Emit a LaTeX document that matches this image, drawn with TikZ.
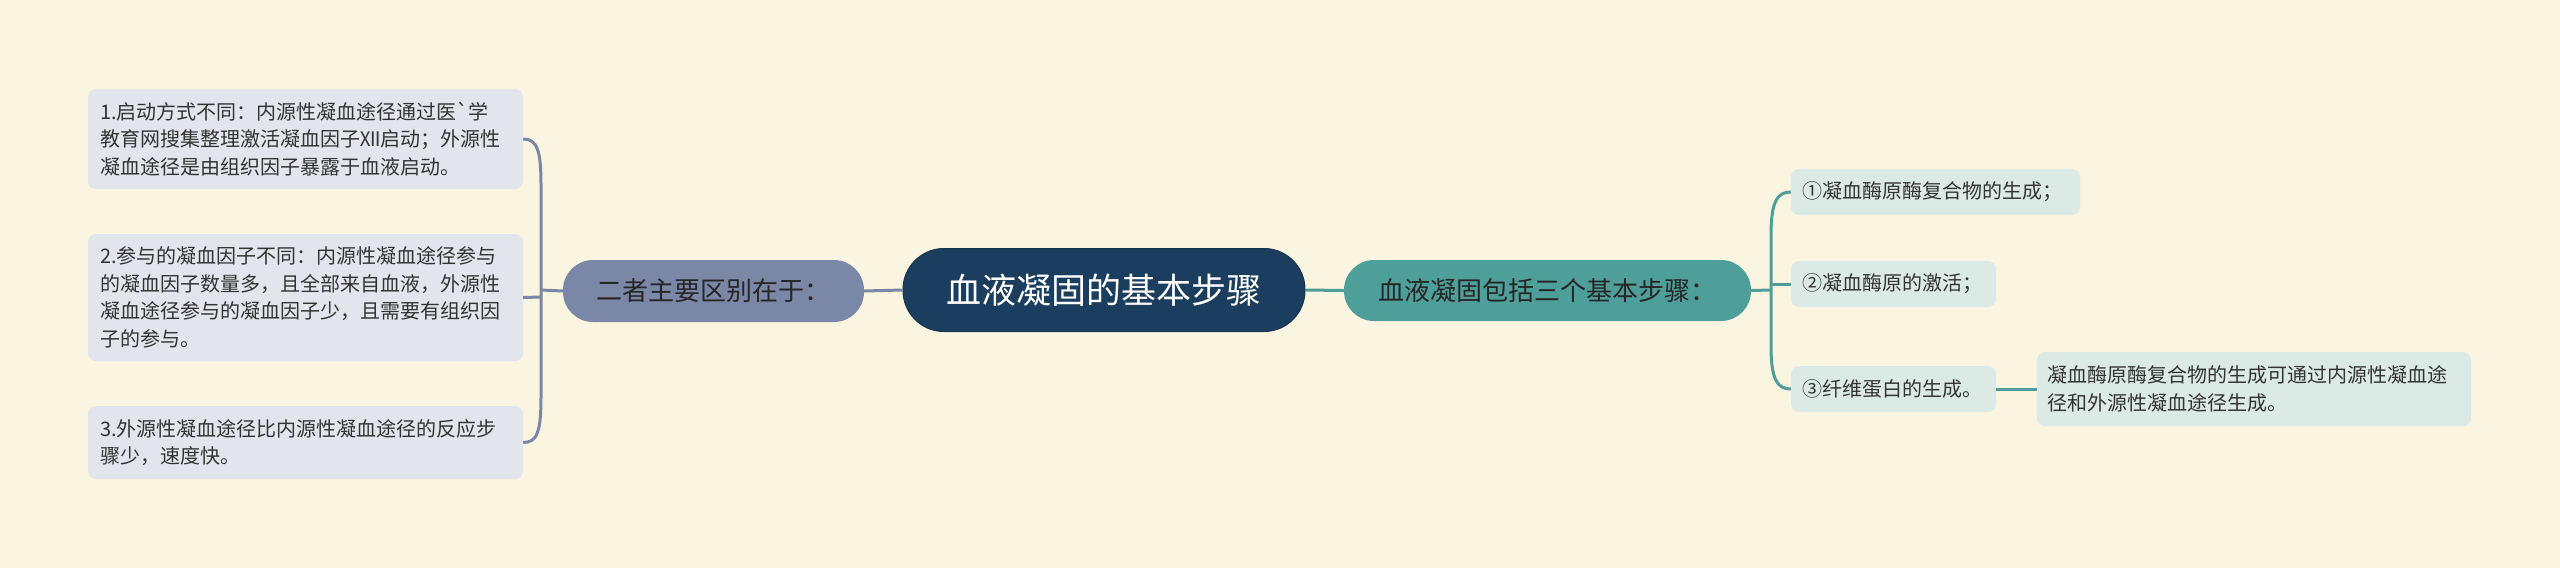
\documentclass[tikz,border=0pt]{standalone}
\usepackage{fontspec}
\newfontfamily\cjk{Noto Sans CJK SC}
\definecolor{bgc}{HTML}{FAF5E0}
\definecolor{rootc}{HTML}{1B3E5E}
\definecolor{rootb}{HTML}{16344F}
\definecolor{grayc}{HTML}{7B87A7}
\definecolor{tealc}{HTML}{4E9E9A}
\definecolor{lboxc}{HTML}{E2E5EC}
\definecolor{rboxc}{HTML}{DCEAE6}
\definecolor{txtc}{HTML}{333333}
\tikzset{
  rootn/.style={draw=rootb, line width=1pt, fill=rootc, text=white, rounded corners=41pt,
    minimum width=402pt, minimum height=83pt, inner sep=0pt,
    font=\cjk\fontsize{35}{42}\selectfont},
  graynode/.style={fill=grayc, text=black!85, rounded corners=30pt,
    minimum width=301pt, minimum height=62pt, inner sep=0pt,
    font=\cjk\fontsize{26}{32}\selectfont},
  tealnode/.style={fill=tealc, text=black!85, rounded corners=30pt,
    minimum width=407pt, minimum height=61pt, inner sep=0pt,
    font=\cjk\fontsize{26}{32}\selectfont},
  lbox/.style={fill=lboxc, text=txtc, rounded corners=8pt, inner xsep=12pt, inner ysep=0pt,
    text width=411pt, align=left, font=\cjk\fontsize{20}{27.5}\selectfont},
  rbox/.style={fill=rboxc, text=txtc, rounded corners=8pt, inner xsep=11pt, inner ysep=0pt,
    align=left, minimum height=46pt, font=\cjk\fontsize{20}{27.5}\selectfont},
  gline/.style={draw=grayc, line width=3pt},
  tline/.style={draw=tealc, line width=3pt},
}
\begin{document}
\begin{tikzpicture}[x=1pt,y=-1pt]
\fill[bgc] (0,0) rectangle (2560,568);
\useasboundingbox (0,0) rectangle (2560,568);

\node[rootn] (root) at (1104,290) {血液凝固的基本步骤};
\node[graynode] (l) at (713.5,291) {二者主要区别在于：};
\node[tealnode] (r) at (1547.5,290.5) {血液凝固包括三个基本步骤：};

\node[lbox, minimum height=100pt] (b1) at (305.5,139) {1.启动方式不同：内源性凝血途径通过医`学\\教育网搜集整理激活凝血因子Ⅻ启动；外源性\\凝血途径是由组织因子暴露于血液启动。};
\node[lbox, minimum height=127pt] (b2) at (305.5,297.5) {2.参与的凝血因子不同：内源性凝血途径参与\\的凝血因子数量多，且全部来自血液，外源性\\凝血途径参与的凝血因子少，且需要有组织因\\子的参与。};
\node[lbox, minimum height=73pt] (b3) at (305.5,442.5) {3.外源性凝血途径比内源性凝血途径的反应步\\骤少，速度快。};

\node[rbox, text width=267pt] (r1) at (1935.5,192) {①凝血酶原酶复合物的生成；};
\node[rbox, text width=183pt] (r2) at (1893.5,284) {②凝血酶原的激活；};
\node[rbox, text width=183pt] (r3) at (1893.5,389) {③纤维蛋白的生成。};
\node[rbox, text width=414pt, inner xsep=10pt, minimum height=74pt] (d) at (2254,389) {凝血酶原酶复合物的生成可通过内源性凝血途\\径和外源性凝血途径生成。};

\coordinate (lj) at (541,290);
\coordinate (rj) at (1771,290);

\draw[gline] (root.west) -- (l.east);
\draw[gline] (l.west) -- (lj);
\draw[gline] (lj) -- (541,185) .. controls (541,150) and (537,139) .. (b1.east);
\draw[gline] (541,297) -- (b2.east);
\draw[gline] (lj) -- (541,397) .. controls (541,432) and (537,442.5) .. (b3.east);

\draw[tline] (root.east) -- (r.west);
\draw[tline] (r.east) -- (rj);
\draw[tline] (rj) -- (1771,235) .. controls (1771,202) and (1777,192) .. (r1.west);
\draw[tline] (1771,284) -- (r2.west);
\draw[tline] (rj) -- (1771,346) .. controls (1771,379) and (1777,389) .. (r3.west);
\draw[tline] (r3.east) -- (d.west);
\end{tikzpicture}
\end{document}
